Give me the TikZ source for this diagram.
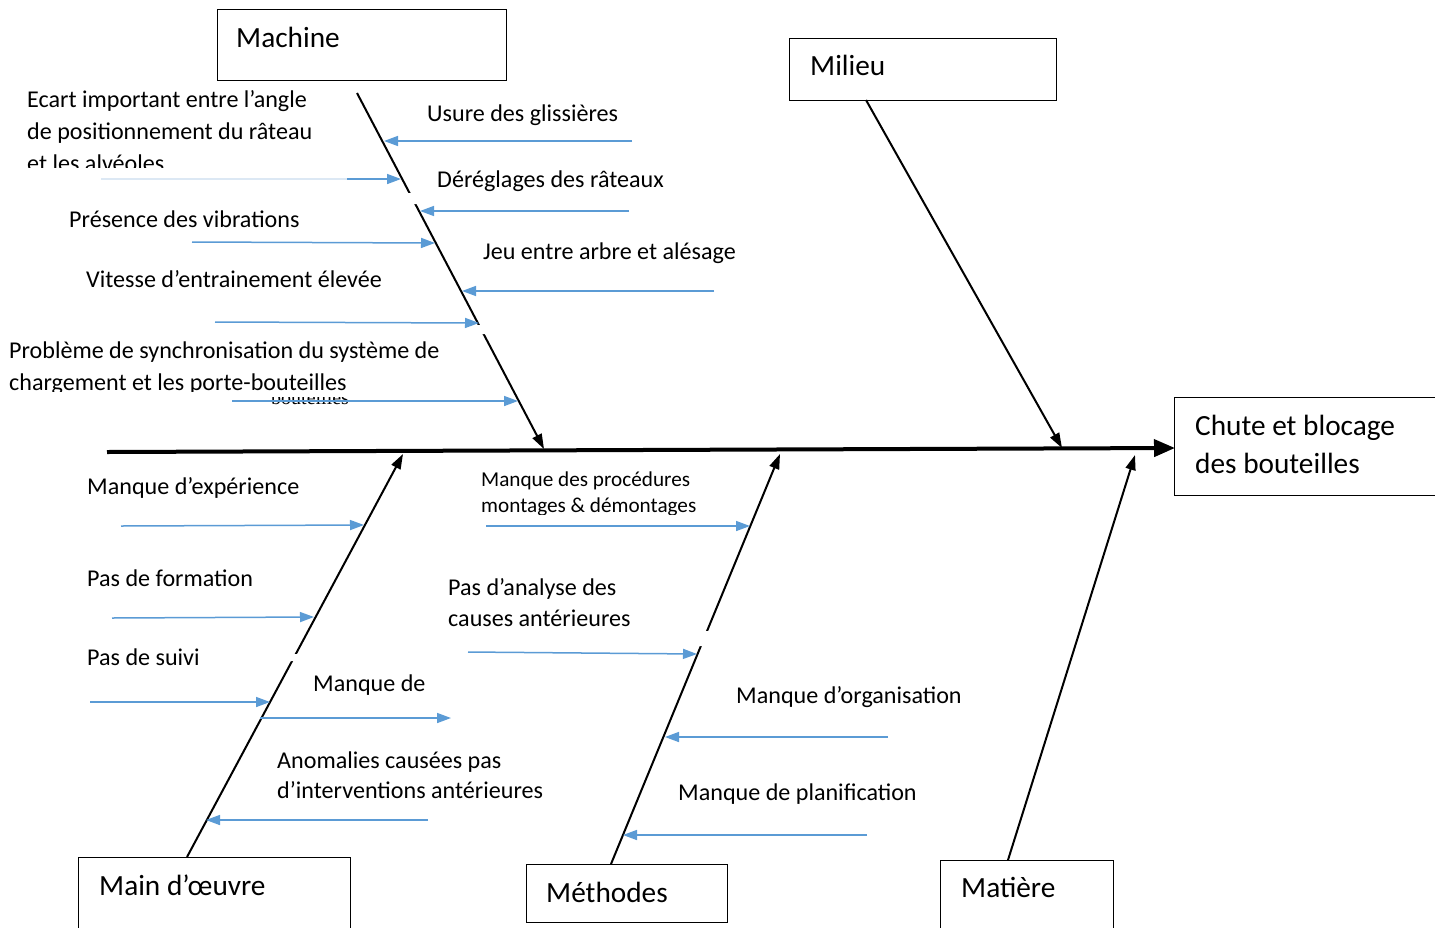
\documentclass[tikz,border=0pt]{standalone}
\usepackage{fontspec}
\setmainfont{Carlito}
\newfontfamily\serifface{Liberation Serif}
\usetikzlibrary{arrows.meta}
\definecolor{causeblue}{HTML}{5B9BD5}
\definecolor{fadedblue}{HTML}{DCE8F4}

\tikzset{
  catbox/.style={draw=black, line width=1pt, fill=white, inner sep=0pt},
  cattext/.style={anchor=base west, inner sep=0pt, font=\fontsize{29.3}{39}\selectfont},
  txt/.style={anchor=base west, inner sep=0pt, font=\fontsize{24.1}{32}\selectfont},
  smalltxt/.style={anchor=base west, inner sep=0pt, font=\fontsize{21.2}{27}\selectfont},
  bone/.style={line width=2pt, -{Triangle[length=15pt,width=10pt]}},
  spine/.style={line width=4pt, -{Triangle[length=21pt,width=17pt]}},
  cause/.style={draw=causeblue, line width=1.5pt, -{Triangle[length=14pt,width=10pt]}},
  mask/.style={fill=white},
}

% a blue cause arrow between two named coordinates
\newcommand{\causeline}[3]{%
  \coordinate (#1a) at (#2);
  \coordinate (#1b) at (#3);
  \draw[cause] (#1a) -- (#1b);}

\begin{document}
\begin{tikzpicture}[x=1pt, y=-1pt]
\clip (0,0) rectangle (1435,927);

% ---------- category boxes ----------
\node[catbox, minimum width=289pt, minimum height=71pt] (machine) at (361.5,44.5) {};
\node[catbox, minimum width=267pt, minimum height=62pt] (milieu) at (922.5,69) {};
\node[catbox, minimum width=290pt, minimum height=98pt] (effet) at (1319,446) {};
\node[catbox, minimum width=272pt, minimum height=110pt] (mainoeuvre) at (214,912) {};
\node[catbox, minimum width=201pt, minimum height=58pt] (methodes) at (626.5,893) {};
\node[catbox, minimum width=173pt, minimum height=110pt] (matiere) at (1026.5,915) {};

\node[cattext] (machineT) at (236,47) {Machine};
\node[cattext] (milieuT) at (810,75) {Milieu};
\node[cattext] (effetT1) at (1195,435) {Chute et blocage};
\node[cattext] (effetT2) at (1195,473) {des bouteilles};
\node[cattext] (mainoeuvreT) at (99,895) {Main d’œuvre};
\node[cattext] (methodesT) at (546,902) {Méthodes};
\node[cattext] (matiereT) at (961,897) {Matière};

% ---------- spine and bones ----------
\coordinate (spineL) at (107,452);
\coordinate (spineR) at (1175,448);
\draw[spine] (spineL) -- (spineR);

\coordinate (boneMa) at (357,93);    \coordinate (tipMa) at (544,449);
\coordinate (boneMi) at (866,100);   \coordinate (tipMi) at (1062,448);
\coordinate (boneMo) at (187,857);   \coordinate (tipMo) at (403,454);
\coordinate (boneMe) at (611,864);   \coordinate (tipMe) at (780,454);
\coordinate (boneMt) at (1008,860);  \coordinate (tipMt) at (1135,455);
\draw[bone] (boneMa) -- (tipMa);
\draw[bone] (boneMi) -- (tipMi);
\draw[bone] (boneMo) -- (tipMo);
\draw[bone] (boneMe) -- (tipMe);
\draw[bone] (boneMt) -- (tipMt);

% small breaks in the bones
\fill[mask] (406,193) -- (413,193) -- (418,204) -- (411,204) -- cycle;
\fill[mask] (475,325) -- (482,325) -- (486,334) -- (479,334) -- cycle;
\fill[mask] (292,654) -- (299,654) -- (296,661) -- (289,661) -- cycle;
\fill[mask] (703,631) -- (711,631) -- (705,646) -- (697,646) -- cycle;

% ---------- Machine causes ----------
\causeline{m1}{632,141}{384,141}
\coordinate (m2f) at (101,179);
\coordinate (m2a) at (347,179);
\coordinate (m2b) at (401,179);
\draw[fadedblue, line width=1.5pt] (m2f) -- (m2a);
\draw[cause] (m2a) -- (m2b);
\causeline{m3}{629,211}{420,211}
\causeline{m4}{192,242}{435,243}
\causeline{m5}{714,291}{462,291}
\causeline{m6}{215,322}{479,323}

\begin{scope}
  \clip (0,0) rectangle (720,167);
  \node[txt] (ecart1) at (27,107) {Ecart important entre l’angle};
  \node[txt] (ecart2) at (27,139) {de positionnement du râteau};
  \node[txt] (ecart3) at (27,171) {et les alvéoles};
\end{scope}
\node[txt] (usure) at (427,121) {Usure des glissières};
\node[txt] (dereglage) at (437,187) {Déréglages des râteaux};
\node[txt] (vibration) at (69,227) {Présence des vibrations};
\node[txt] (jeu) at (483,259) {Jeu entre arbre et alésage};
\node[txt] (vitesse) at (86,287) {Vitesse d’entrainement élevée};
\node[txt] (synchro1) at (9,358) {Problème de synchronisation du système de};
\begin{scope}
  \clip (0,340) rectangle (720,391);
  \node[txt] (synchro2) at (9,390) {chargement et les porte-bouteilles};
\end{scope}
\begin{scope}
  \clip (250,397.5) rectangle (400,410);
  \node[anchor=base west, inner sep=0pt, font=\serifface\fontsize{20}{24}\selectfont] (reste) at (271,404.5) {bouteilles};
\end{scope}
\causeline{m7}{232,401}{518,401}

% ---------- Main d'oeuvre causes ----------
\causeline{w1}{121,526}{364,525}
\causeline{w2}{112,618}{314,617}
\causeline{w3}{90,702}{270,702}
\causeline{w4}{260,718}{451,718}
\causeline{w5}{428,820}{206,820}

\node[txt] (experience) at (87,494) {Manque d’expérience};
\node[txt] (formation) at (87,586) {Pas de formation};
\node[txt] (suivi) at (87,665) {Pas de suivi};
\node[txt] (manquede) at (313,691) {Manque de};
\node[txt] (anomalies1) at (277,768) {Anomalies causées pas};
\node[txt] (anomalies2) at (277,798) {d’interventions antérieures};

% ---------- Methodes causes ----------
\causeline{t1}{486,526}{750,526}
\causeline{t2}{468,652}{697,654}
\causeline{t3}{888,737}{665,737}
\causeline{t4}{867,835}{623,835}

\node[smalltxt] (procedures1) at (481,486) {Manque des procédures};
\begin{scope}
  \clip (470,490) rectangle (760,514);
  \node[smalltxt] (procedures2) at (481,512) {montages \& démontages};
\end{scope}
\node[txt] (analyse1) at (448,595) {Pas d’analyse des};
\node[txt] (analyse2) at (448,626) {causes antérieures};
\node[txt] (organisation) at (736,703) {Manque d’organisation};
\node[txt] (planification) at (678,800) {Manque de planification};
\end{tikzpicture}
\end{document}
